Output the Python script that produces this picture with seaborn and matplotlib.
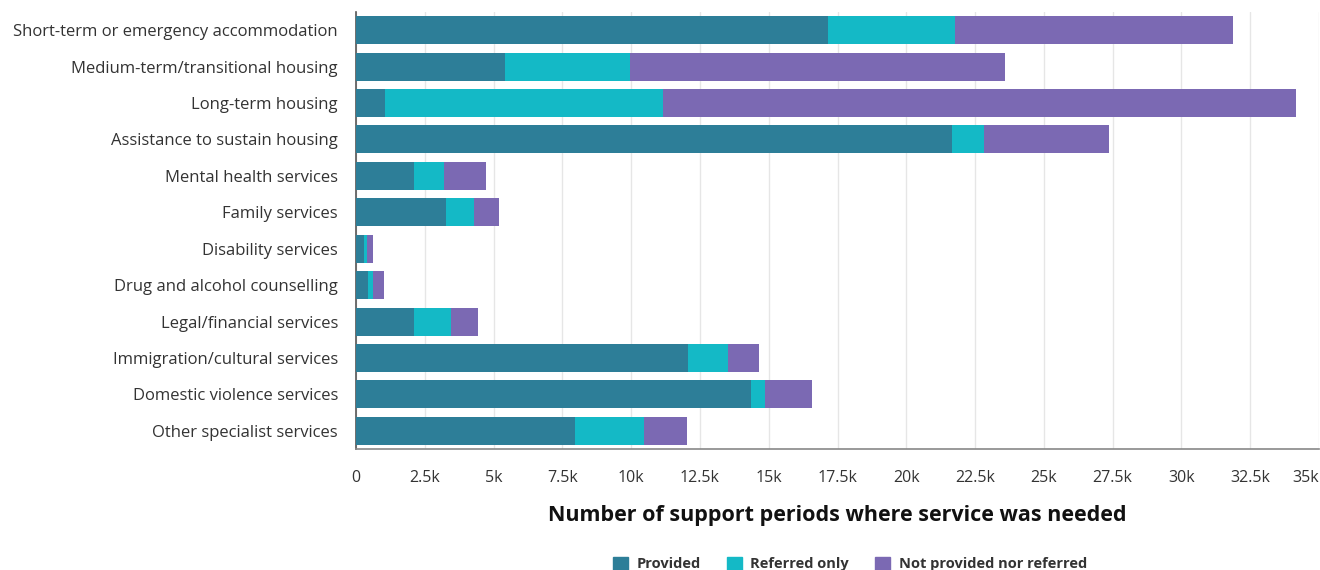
import matplotlib
matplotlib.use("Agg")
import matplotlib.pyplot as plt
import matplotlib.patches as mpatches
import numpy as np
import pandas as pd
import seaborn as sns

categories = [
    "Short-term or emergency accommodation",
    "Medium-term/transitional housing",
    "Long-term housing",
    "Assistance to sustain housing",
    "Mental health services",
    "Family services",
    "Disability services",
    "Drug and alcohol counselling",
    "Legal/financial services",
    "Immigration/cultural services",
    "Domestic violence services",
    "Other specialist services",
]
provided = [17150, 5420, 1060, 21670, 2110, 3280, 280, 450, 2110, 12080, 14360, 7950]
referred_only = [4610, 4530, 10110, 1140, 1090, 1010, 130, 170, 1340, 1450, 510, 2520]
not_provided = [10110, 13640, 22980, 4540, 1530, 910, 220, 400, 1000, 1120, 1700, 1570]

series_names = ["Provided", "Referred only", "Not provided nor referred"]
colors = ["#2d7e98", "#14b9c6", "#7b69b3"]

xticks = np.arange(0, 35001, 2500)
xtick_labels = ["0", "2.5k", "5k", "7.5k", "10k", "12.5k", "15k", "17.5k",
                "20k", "22.5k", "25k", "27.5k", "30k", "32.5k", "35k"]

sns.set_theme(style="white")
plt.rcParams["font.family"] = ["Open Sans", "DejaVu Sans"]

df = pd.DataFrame({
    "category": categories,
    "provided": provided,
    "referred": referred_only,
    "not_provided": not_provided,
})
df["cum_provided"] = df["provided"]
df["cum_referred"] = df["cum_provided"] + df["referred"]
df["cum_total"] = df["cum_referred"] + df["not_provided"]

fig = plt.figure(figsize=(13.2, 5.7), dpi=100)
ax = fig.add_axes([356 / 1320, 1 - 449 / 570, (1319 - 356) / 1320, (449 - 12) / 570])

# stacked bars drawn back to front as cumulative totals
for col, c in zip(["cum_total", "cum_referred", "cum_provided"], colors[::-1]):
    sns.barplot(data=df, x=col, y="category", color=c, orient="h",
                width=0.77, saturation=1, linewidth=0, ax=ax, zorder=3)

ax.set_xlim(0, 35000)
ax.set_ylim(11.5, -0.5)
ax.set_xticks(xticks)
ax.set_xticklabels(xtick_labels)
# keep the last tick label inside the figure
ax.get_xticklabels()[-1].set_horizontalalignment("right")
ax.xaxis.grid(True, color="#e6e6e6", linewidth=1, zorder=0)
ax.set_axisbelow(True)
ax.set_ylabel("")
ax.set_xlabel("Number of support periods where service was needed",
              fontsize=15.5, fontweight="bold", color="#111111", labelpad=14)
ax.tick_params(axis="y", labelsize=11.95, colors="#333333", length=0, pad=13)
ax.tick_params(axis="x", labelsize=11.5, colors="#333333", length=5, pad=10,
               direction="out", color="#cccccc")

for side in ["top", "right"]:
    ax.spines[side].set_visible(False)
ax.spines["left"].set_color("#555555")
ax.spines["left"].set_linewidth(1.2)
ax.spines["bottom"].set_color("#888888")
ax.spines["bottom"].set_linewidth(1.2)

handles = [mpatches.Patch(color=c, label=n) for c, n in zip(colors, series_names)]
leg = fig.legend(handles=handles, loc="center", bbox_to_anchor=(0.644, 6 / 570),
                 ncol=3, frameon=False, handlelength=1.0, handleheight=1.0,
                 handletextpad=0.6, columnspacing=1.8,
                 prop={"size": 10.5, "weight": "bold"})
for t in leg.get_texts():
    t.set_color("#333333")

fig.savefig("out.png", dpi=100)
